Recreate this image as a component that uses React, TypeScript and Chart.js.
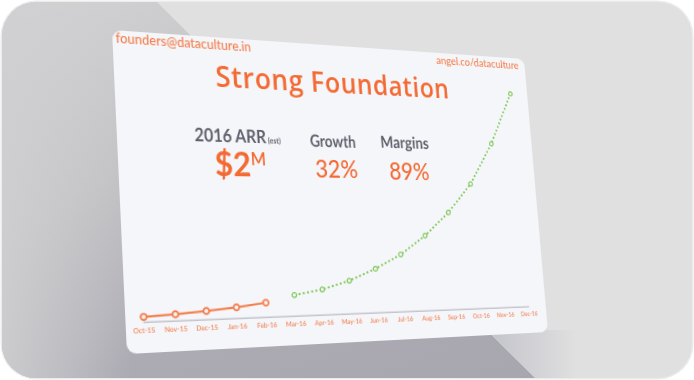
import React, { useEffect, useRef } from "react";
import { Chart, registerables } from "chart.js";

Chart.register(...registerables);

// ---- data ----
const months = [
  "Oct-15", "Nov-15", "Dec-15", "Jan-16", "Feb-16", "Mar-16", "Apr-16", "May-16",
  "Jun-16", "Jul-16", "Aug-16", "Sep-16", "Oct-16", "Nov-16", "Dec-16",
];
const actualRevenue = [4.9, 6.2, 8.2, 10.6, 14.0];
const projectedRevenue = [20.4, 25.0, 32.9, 44.2, 58.1, 77.2, 101.3, 131.8, 175.6, 231.8];
const yMin = 0;
const yMax = 260;

// ---- card geometry (flat card, then projected) ----
const CW = 460;
const CH = 300;
const corners: [number, number][] = [
  [112, 30], // top-left
  [524, 59], // top-right
  [548, 332], // bottom-right
  [127, 354], // bottom-left
];

function matrixFor(W: number, H: number, p: [number, number][]) {
  const [[x0, y0], [x1, y1], [x2, y2], [x3, y3]] = p;
  const dx1 = x1 - x2, dx2 = x3 - x2, dx3 = x0 - x1 + x2 - x3;
  const dy1 = y1 - y2, dy2 = y3 - y2, dy3 = y0 - y1 + y2 - y3;
  const den = dx1 * dy2 - dx2 * dy1;
  const g = (dx3 * dy2 - dx2 * dy3) / den;
  const h = (dx1 * dy3 - dx3 * dy1) / den;
  const a = x1 - x0 + g * x1;
  const b = x3 - x0 + h * x3;
  const d = y1 - y0 + g * y1;
  const e = y3 - y0 + h * y3;
  const m = [a / W, d / W, 0, g / W, b / H, e / H, 0, h / H, 0, 0, 1, 0, x0, y0, 0, 1];
  return `matrix3d(${m.join(",")})`;
}

const ORANGE = "#f36a33";
const ORANGE_LIGHT = "#f47d4a";
const GRAY = "#5f606c";
const GREEN = "#7cc752";
const CARD = "#f5f6fa";

type TxtProps = {
  x: number;
  base: number;
  size: number;
  family: string;
  k: number;
  weight?: number | string;
  color: string;
  align?: "left" | "center" | "right";
  ls?: number;
  sx?: number;
  children: React.ReactNode;
};

function Txt({ x, base, size, family, k, weight = 400, color, align = "left", ls = 0, sx = 1, children }: TxtProps) {
  const style: React.CSSProperties = {
    position: "absolute",
    top: base - k * size,
    fontFamily: family,
    fontSize: size,
    lineHeight: `${size}px`,
    fontWeight: weight as any,
    color,
    whiteSpace: "nowrap",
    letterSpacing: ls,
  };
  if (align === "left") {
    style.left = x;
    style.transformOrigin = "0 0";
    if (sx !== 1) style.transform = `scaleX(${sx})`;
  }
  if (align === "right") {
    style.right = CW - x;
    style.transformOrigin = "100% 0";
    if (sx !== 1) style.transform = `scaleX(${sx})`;
  }
  if (align === "center") {
    style.left = x;
    style.transform = `translateX(-50%) scaleX(${sx})`;
  }
  return <div style={style}>{children}</div>;
}

const LATO = "Lato, 'Noto Sans', sans-serif";
const OPEN = "'Open Sans', 'Noto Sans', sans-serif";

export default function App() {
  const canvasRef = useRef<HTMLCanvasElement | null>(null);

  useEffect(() => {
    if (!canvasRef.current) return;
    const n = actualRevenue.length;
    const chart = new Chart(canvasRef.current, {
      type: "line",
      data: {
        labels: months,
        datasets: [
          {
            data: months.map((_, i) => (i < n ? actualRevenue[i] : null)),
            borderColor: ORANGE_LIGHT,
            borderWidth: 2,
            pointRadius: 2.8,
            pointBorderWidth: 1.8,
            pointBackgroundColor: CARD,
            pointBorderColor: ORANGE_LIGHT,
            tension: 0,
            spanGaps: false,
          },
          {
            data: months.map((_, i) => (i >= n ? projectedRevenue[i - n] : null)),
            borderColor: GREEN,
            borderWidth: 2,
            borderDash: [2, 2.6],
            pointRadius: 2.3,
            pointBorderWidth: 1.3,
            pointBackgroundColor: CARD,
            pointBorderColor: GREEN,
            tension: 0,
            spanGaps: false,
          },
        ],
      },
      options: {
        animation: false,
        responsive: false,
        devicePixelRatio: 2,
        layout: { padding: { left: 17, right: 22, top: 12, bottom: 12 } },
        plugins: { legend: { display: false }, tooltip: { enabled: false } },
        scales: {
          x: {
            offset: false,
            grid: { display: false, drawTicks: false },
            border: { display: true, color: "#c4c4cb", width: 1.5 },
            ticks: {
              color: "#f2875a",
              font: { family: "Lato", size: 6.5, weight: "600" as any },
              padding: 4,
              maxRotation: 0,
              autoSkip: false,
            },
          },
          y: { display: false, min: yMin, max: yMax },
        },
      },
    });
    return () => chart.destroy();
  }, []);

  return (
    <div style={{ position: "fixed", left: 0, top: 0, width: 694, height: 380, background: "#ffffff", overflow: "hidden" }}>
      <div
        style={{
          position: "absolute",
          left: 2,
          top: 2,
          width: 690,
          height: 376,
          borderRadius: 34,
          background: "#e0e0e0",
          overflow: "hidden",
          boxShadow: "0 0 0 1.5px #ececec",
        }}
      >
        <div
          style={{
            position: "absolute",
            inset: 0,
            clipPath: "polygon(0 0, 155px 0, 533px 376px, 0 376px)",
            background:
              "linear-gradient(90deg, rgba(208,208,210,0.85) 0px, rgba(208,208,210,0) 130px), linear-gradient(160deg, #d2d2d3 0%, #c2c2c5 35%, #acabb3 65%, #a6a5ae 100%)",
          }}
        />
        <div
          style={{
            position: "absolute",
            inset: 0,
            clipPath: "polygon(485px 328px, 620px 328px, 620px 376px, 533px 376px)",
            background: "linear-gradient(90deg, rgba(196,196,204,1) 490px, rgba(224,224,224,0) 575px)",
          }}
        />
      </div>

      <div
        style={{
          position: "absolute",
          left: 0,
          top: 0,
          width: CW,
          height: CH,
          background: CARD,
          borderRadius: 9,
          overflow: "hidden",
          transformOrigin: "0 0",
          transform: matrixFor(CW, CH, corners),
        }}
      >
        <canvas ref={canvasRef} width={CW} height={CH} style={{ position: "absolute", left: 0, top: 0 }} />

        <Txt x={3} base={13} size={12.5} family={LATO} k={0.887} weight={500} color={ORANGE_LIGHT}>
          founders@dataculture.in
        </Txt>
        <Txt x={452} base={12} size={11.6} family={LATO} k={0.887} weight={500} color={ORANGE_LIGHT} align="right">
          angel.co/dataculture
        </Txt>

        <Txt x={230} base={49} size={28} family={OPEN} k={0.888} weight={600} color={ORANGE} align="center" ls={0.6}>
          Strong Foundation
        </Txt>

        <Txt x={119} base={103} size={18} family={LATO} k={0.887} weight={700} color={GRAY} align="center" sx={0.9}>
          2016 ARR<span style={{ fontSize: 8 }}> (est)</span>
        </Txt>
        <Txt x={120} base={136.5} size={32} family={LATO} k={0.887} weight={700} color={ORANGE} align="center">
          $2<span style={{ fontSize: 17, position: "relative", top: -11, fontWeight: 600 }}>M</span>
        </Txt>

        <Txt x={220} base={105} size={17} family={LATO} k={0.887} weight={700} color={GRAY} align="center" sx={0.88}>
          Growth
        </Txt>
        <Txt x={222} base={136} size={24} family={LATO} k={0.887} weight={500} color={ORANGE} align="center">
          32%
        </Txt>

        <Txt x={302} base={104} size={17} family={LATO} k={0.887} weight={700} color={GRAY} align="center" sx={0.93}>
          Margins
        </Txt>
        <Txt x={305} base={137} size={24} family={LATO} k={0.887} weight={500} color={ORANGE} align="center">
          89%
        </Txt>
      </div>
    </div>
  );
}
